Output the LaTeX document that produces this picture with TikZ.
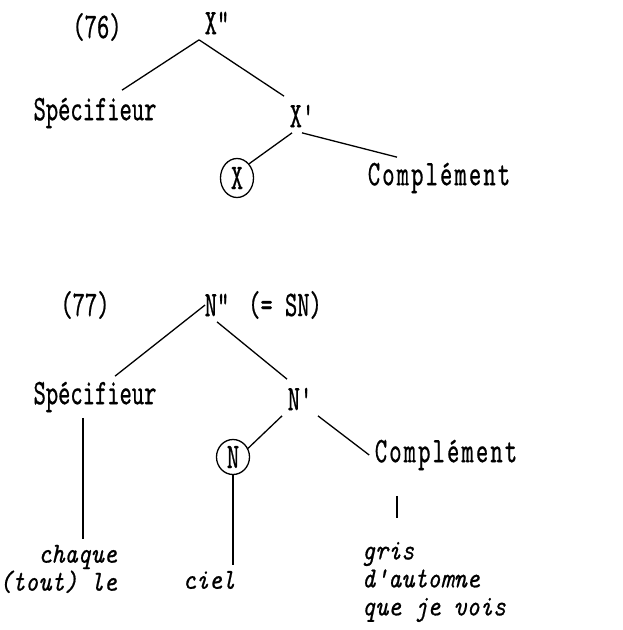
\documentclass[tikz,border=0pt]{standalone}
\usepackage{fontspec}
\usepackage{tikz}
\usetikzlibrary{shapes.geometric}
\newfontfamily\twfont{lmmono10-regular.otf}[Ligatures=TeXOff,FakeStretch=0.65,FakeBold=0.6]
\newfontfamily\twspfont{lmmono10-regular.otf}[Ligatures=TeXOff,FakeStretch=0.65,FakeBold=0.6,LetterSpace=6]
\newfontfamily\twitfont{lmmono10-italic.otf}[Ligatures=TeXOff,FakeStretch=0.86,FakeBold=0.6]

\begin{document}
\begin{tikzpicture}[x=1pt,y=1pt,line width=1.3pt]
	\tikzstyle{every node}+=[inner sep=5pt,font=\fontsize{36}{26}\selectfont\twfont]
	\tikzstyle{spaced}=[font=\fontsize{36}{26}\selectfont\twspfont]
	\tikzstyle{leaf}=[font=\fontsize{29}{28}\selectfont\twitfont]
	\tikzstyle{head}=[draw,ellipse,inner sep=0pt,minimum width=33pt]
	\useasboundingbox (0,0) rectangle (622,-630);
	% (76)
	\node (ex76) at (97,-27) {(76)};
	\node (xpp) at (217,-23) {X"};
	\node (spec1) at (95,-113) {Spécifieur};
	\node (xp) at (302,-116) {X'};
	\node [head,minimum height=39pt] (xh) at (237,-178) {X};
	\node [spaced] (comp1) at (439,-178) {Complément};
	\draw (xpp.south west) -- ([xshift=27pt,yshift=2pt]spec1.north);
	\draw (xpp.south west) -- ([yshift=3pt]xp.north west);
	\draw ([xshift=8pt]xp.south west) -- (xh.north east);
	\draw (xp.south) -- ([xshift=-42pt]comp1.north);
	% (77)
	\node (ex77) at (85,-305) {(77)};
	\node (npp) at (217,-305) {N"};
	\node (sn) at (285,-305) {(= SN)};
	\node (spec2) at (95,-397) {Spécifieur};
	\node (np) at (300,-399) {N'};
	\node [head,minimum height=35pt] (nh) at (233,-457) {N};
	\node [spaced] (comp2) at (446,-455) {Complément};
	\node [leaf,align=right] (det) at (58,-569) {chaque\\(tout) le};
	\node [leaf] (ciel) at (209,-580) {ciel};
	\node [leaf,align=left] (cmp) at (434,-582) {gris\\d'automne\\que je vois};
	\draw ([xshift=6pt]npp.west) -- ([xshift=20pt]spec2.north);
	\draw (npp.south) -- ([yshift=3pt,xshift=5pt]np.north west);
	\draw (np.south west) -- (nh.30);
	\draw (np.south east) -- (comp2.west);
	\draw ([xshift=-12pt]spec2.south) -- ([xshift=-12pt]spec2.south |- det.north);
	\draw (nh.south) -- (nh.south |- ciel.north);
	\draw ([xshift=-49pt,yshift=-20pt]comp2.south) -- ([xshift=-49pt,yshift=18pt]comp2.south |- cmp.north);
\end{tikzpicture}
\end{document}
